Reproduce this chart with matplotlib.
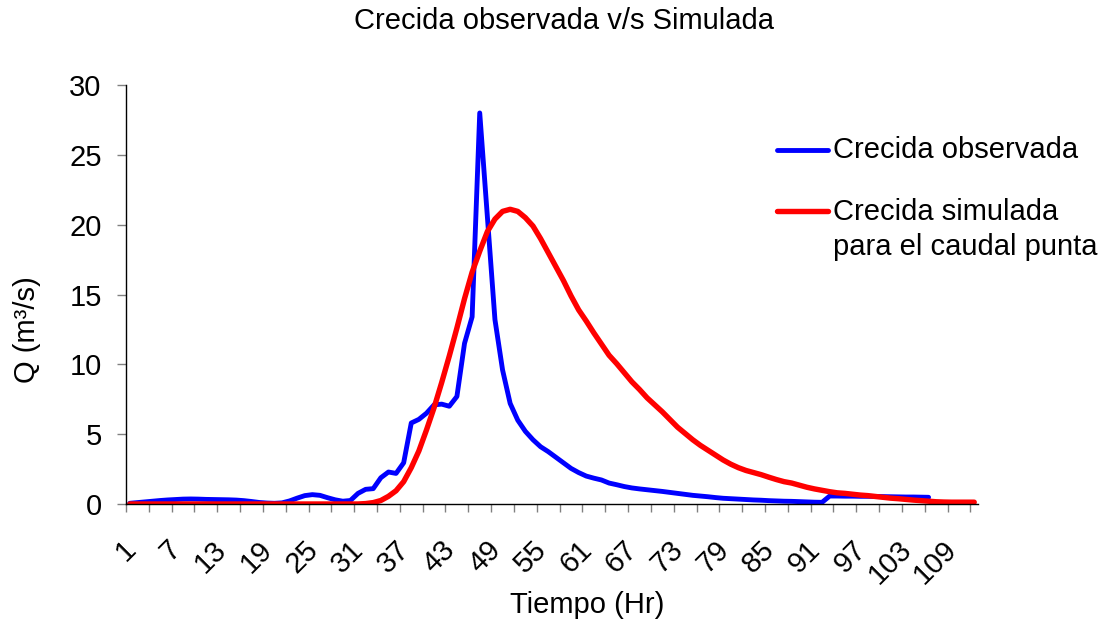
import numpy as np
import matplotlib.pyplot as plt
from matplotlib.lines import Line2D
from matplotlib.transforms import ScaledTranslation

plt.rcParams['font.family'] = ['Liberation Sans', 'DejaVu Sans']

# caudales horarios (m3/s)
q_observada = [
    0.05, 0.1, 0.15, 0.2, 0.25, 0.29, 0.32, 0.35, 0.36, 0.35,
    0.33, 0.32, 0.31, 0.30, 0.28, 0.24, 0.18, 0.11, 0.07, 0.05,
    0.08, 0.22, 0.42, 0.6, 0.67, 0.62, 0.45, 0.3, 0.2, 0.25,
    0.76, 1.05, 1.1, 1.88, 2.29, 2.19, 2.95, 5.8, 6.06, 6.5,
    7.1, 7.15, 7.0, 7.7, 11.5, 13.4, 28.0, 20.6, 13.2, 9.6,
    7.2, 6.0, 5.2, 4.6, 4.1, 3.75, 3.35, 2.95, 2.55, 2.25,
    2.0, 1.85, 1.72, 1.5, 1.38, 1.25, 1.15, 1.08, 1.02, 0.96,
    0.9, 0.83, 0.76, 0.69, 0.62, 0.57, 0.52, 0.46, 0.41, 0.38,
    0.35, 0.32, 0.29, 0.27, 0.24, 0.22, 0.2, 0.19, 0.17, 0.15,
    0.13, 0.12, 0.57, 0.57, 0.56, 0.56, 0.55, 0.55, 0.54, 0.53,
    0.52, 0.51, 0.5, 0.5, 0.49, 0.48,
]

q_simulada = [0.0] * 31 + [
    0.03, 0.1, 0.25, 0.55, 0.95, 1.6, 2.6, 3.8, 5.3,
    6.9, 8.7, 10.6, 12.6, 14.7, 16.6, 18.1, 19.5, 20.4, 20.95,
    21.1, 20.95, 20.5, 19.9, 19.0, 18.0, 17.0, 16.0, 14.9, 13.9,
    13.1, 12.25, 11.45, 10.65, 10.05, 9.4, 8.75, 8.2, 7.6, 7.1,
    6.6, 6.05, 5.5, 5.05, 4.6, 4.2, 3.85, 3.5, 3.15, 2.85,
    2.6, 2.4, 2.25, 2.1, 1.92, 1.75, 1.6, 1.5, 1.35, 1.2,
    1.08, 0.98, 0.88, 0.8, 0.76, 0.7, 0.64, 0.6, 0.54, 0.48,
    0.42, 0.38, 0.33, 0.28, 0.24, 0.2, 0.16, 0.14, 0.13, 0.13,
    0.13, 0.13,
]

t_obs = np.arange(1, len(q_observada) + 1)
t_sim = np.arange(1, len(q_simulada) + 1)

fs = 21
lw_obs = 3.5
lw_sim = 3.9

fig = plt.figure(figsize=(11.09, 6.25), dpi=100)
ax = fig.add_axes([0.1136, 0.1936, 0.7683, 0.6704])

ax.plot(t_obs, q_observada, color='#0000ff', lw=lw_obs, solid_joinstyle='round',
        solid_capstyle='round')
ax.plot(t_sim, q_simulada, color='#ff0000', lw=lw_sim, solid_joinstyle='round',
        solid_capstyle='round')

ax.set_xlim(0.5, len(q_simulada) + 0.5)
ax.set_ylim(0, 30)
ax.set_yticks(np.arange(0, 31, 5))

# marcas cada 3 horas, etiquetas cada 6
major = np.arange(0.5, len(q_simulada), 6)
minor = np.arange(3.5, len(q_simulada), 6)
ax.set_xticks(major)
ax.set_xticklabels([str(int(m + 0.5)) for m in major], rotation=45,
                   ha='right', va='top', fontsize=fs)
ax.set_xticks(minor, minor=True)

ax.tick_params(axis='x', which='both', direction='out', length=5.5,
               width=1, color='#808080', pad=17)
ax.tick_params(axis='y', direction='out', length=6.5, width=1,
               color='#808080', pad=11, labelsize=fs)

# correr las etiquetas giradas un poco a la derecha
shift = ScaledTranslation(15 / 100, 0, fig.dpi_scale_trans)
for lbl in ax.get_xticklabels():
    lbl.set_transform(lbl.get_transform() + shift)

for s in ['top', 'right']:
    ax.spines[s].set_visible(False)
for s in ['left', 'bottom']:
    ax.spines[s].set_color('black')
    ax.spines[s].set_linewidth(1)

ax.set_xlabel('Tiempo (Hr)', fontsize=fs, va='center')
ax.xaxis.set_label_coords(0.541, -0.241)
ax.set_ylabel('Q (m³/s)', fontsize=fs, va='center', ha='center')
ax.yaxis.set_label_coords(-0.116, 0.415)

fig.text(0.509, 0.966, 'Crecida observada v/s Simulada', ha='center',
         va='center', fontsize=fs)

# leyenda a la derecha, sin marco
fig.add_artist(Line2D([777 / 1109, 828 / 1109], [1 - 150 / 625] * 2,
                      color='#0000ff', lw=lw_obs, solid_capstyle='round'))
fig.text(833 / 1109, 1 - 150 / 625, 'Crecida observada', ha='left',
         va='center', fontsize=fs)
fig.add_artist(Line2D([777 / 1109, 828 / 1109], [1 - 211 / 625] * 2,
                      color='#ff0000', lw=lw_sim, solid_capstyle='round'))
fig.text(833 / 1109, 1 - 229.5 / 625, 'Crecida simulada\npara el caudal punta',
         ha='left', va='center', fontsize=fs, linespacing=1.3)

plt.savefig('out.png', dpi=100)
